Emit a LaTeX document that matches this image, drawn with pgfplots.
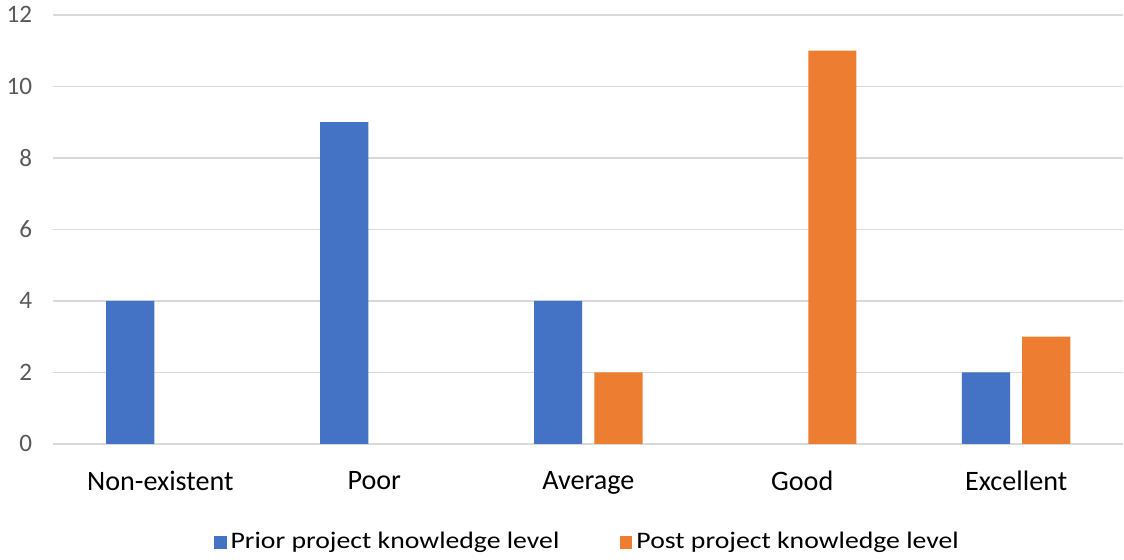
\documentclass[border=0pt]{standalone}
\usepackage{fontspec}
\setmainfont{Carlito}
\newfontfamily\legfont{Carlito}[FakeStretch=1.17]
\usepackage{pgfplots}
\pgfplotsset{compat=1.18}
\definecolor{cblue}{HTML}{4472C4}
\definecolor{corange}{HTML}{ED7D31}
\definecolor{cgrid}{HTML}{D9D9D9}
\definecolor{ctick}{HTML}{595959}
\begin{document}
\begin{tikzpicture}
\begin{axis}[
  scale only axis,
  width=532.5pt, height=213.5pt,
  xmin=-0.5, xmax=4.5, ymin=0, ymax=12,
  ytick={0,2,...,12},
  xtick={0,1,2,3,4},
  xticklabels={Non-existent,Poor,Average,Good,Excellent},
  ymajorgrids, grid style={cgrid, line width=0.8pt},
  axis x line*=bottom, axis y line*=left,
  y axis line style={draw=none},
  x axis line style={cgrid, line width=0.8pt, -},
  major tick length=0pt,
  /pgf/number format/assume math mode=true,
  yticklabel style={font=\fontsize{12.5}{14}\selectfont, text=ctick, xshift=-7pt},
  xticklabel style={font=\fontsize{14}{16}\selectfont, text=black, yshift=-10pt},
  ybar, bar width=24pt,
  legend style={at={(0.5,-0.187)}, anchor=north, legend columns=2, draw=none,
    font=\legfont\fontsize{11.8}{13}\selectfont,
    /tikz/every even column/.append style={column sep=28pt}},
  legend image code/.code={\fill[#1] (0pt,-3.2pt) rectangle (6.4pt,3.2pt);},
]
\addplot[fill=cblue, draw=none, bar shift=-15pt] coordinates {(0,4) (1,9) (2,4) (4,2)};
\addplot[fill=corange, draw=none, bar shift=15pt] coordinates {(2,2) (3,11) (4,3)};
\legend{Prior project knowledge level, Post project knowledge level}
\end{axis}
\end{tikzpicture}
\end{document}
